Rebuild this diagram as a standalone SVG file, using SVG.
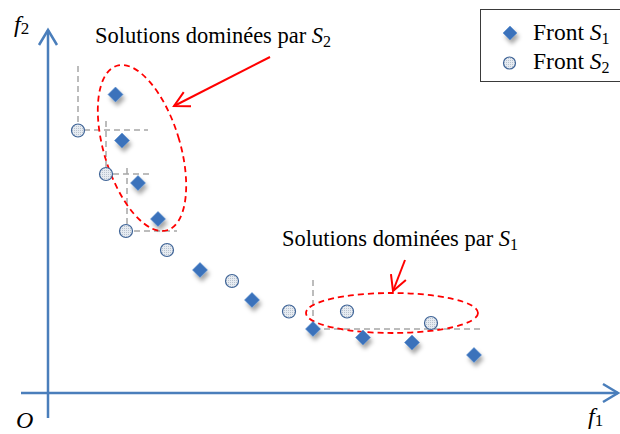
<svg xmlns="http://www.w3.org/2000/svg" width="620" height="434" viewBox="0 0 620 434">
<style>
.lbl{font-family:"Liberation Serif","Times New Roman",serif;font-size:22.5px;fill:#000}
.math{font-family:"Liberation Serif","Times New Roman",serif;font-style:italic;fill:#000}
.axis{stroke:#4a7ebb;stroke-width:2.5;fill:none}
.grid{stroke:#a6a6a6;stroke-width:1.5;stroke-dasharray:6 4;fill:none}
.dom{stroke:#ff0000;stroke-width:1.8;stroke-dasharray:6 4;fill:none}
.red{stroke:#ff0000;stroke-width:2;fill:none}
.s1{fill:#3b72bb;stroke:#5b8fd0;stroke-width:0.6;filter:url(#sh)}
.s2{fill:url(#dots);stroke:#3f6497;stroke-width:1.2}
</style>
<defs>
<filter id="sh" x="-50%" y="-50%" width="220%" height="220%">
<feDropShadow dx="2" dy="4" stdDeviation="2.2" flood-color="#000" flood-opacity="0.35"/>
</filter>
<marker id="ab" markerUnits="userSpaceOnUse" markerWidth="40" markerHeight="40" refX="0" refY="0" viewBox="-20 -20 40 40" orient="auto" overflow="visible">
<path d="M-15,-9 L0,0 L-15,9" fill="none" stroke="#4a7ebb" stroke-width="2.5"/>
</marker>
<marker id="ar" markerUnits="userSpaceOnUse" markerWidth="40" markerHeight="40" refX="0" refY="0" viewBox="-20 -20 40 40" orient="auto" overflow="visible">
<path d="M-15,-8 L0,0 L-15,8" fill="none" stroke="#ff0000" stroke-width="2"/>
</marker>
<pattern id="dots" width="2" height="2" patternUnits="userSpaceOnUse">
<rect width="2" height="2" fill="#e6ebf1"/>
<rect width="1" height="1" fill="#b9c3cf"/>
</pattern>
</defs>
<rect width="620" height="434" fill="#fff"/>

<g id="connectors">
<line class="axis" x1="48" y1="418" x2="48" y2="30" marker-end="url(#ab)"/>
<line class="axis" x1="21" y1="393" x2="618" y2="393" marker-end="url(#ab)"/>
<path class="grid" d="M78,66 V130 H148"/>
<path class="grid" d="M106,121 V174 H152"/>
<path class="grid" d="M127,168 V231 H177"/>
<path class="grid" d="M313,280 V329 H481"/>
<line class="red" x1="270" y1="57" x2="174" y2="106" marker-end="url(#ar)"/>
<line class="red" x1="405" y1="260" x2="393" y2="291" marker-end="url(#ar)"/>
</g>

<g id="dominated-by-s2">
<ellipse class="dom" cx="142" cy="148" rx="38" ry="86" transform="rotate(-17 142 148)"/>
<text class="lbl" x="95" y="43">Solutions dominées par <tspan class="math">S</tspan><tspan font-size="16" dy="4">2</tspan></text>
</g>
<g id="dominated-by-s1">
<ellipse class="dom" cx="392" cy="313" rx="86" ry="20"/>
<text class="lbl" x="282" y="246">Solutions dominées par <tspan class="math">S</tspan><tspan font-size="16" dy="4">1</tspan></text>
</g>

<g id="front-s1">
<path class="s1" d="M115.5,87 l7.5,7.5 l-7.5,7.5 l-7.5,-7.5z"/>
<path class="s1" d="M122,133 l7.5,7.5 l-7.5,7.5 l-7.5,-7.5z"/>
<path class="s1" d="M138,175.5 l7.5,7.5 l-7.5,7.5 l-7.5,-7.5z"/>
<path class="s1" d="M158,211.5 l7.5,7.5 l-7.5,7.5 l-7.5,-7.5z"/>
<path class="s1" d="M200,262.5 l7.5,7.5 l-7.5,7.5 l-7.5,-7.5z"/>
<path class="s1" d="M252,292.5 l7.5,7.5 l-7.5,7.5 l-7.5,-7.5z"/>
<path class="s1" d="M313,321.5 l7.5,7.5 l-7.5,7.5 l-7.5,-7.5z"/>
<path class="s1" d="M363,330 l7.5,7.5 l-7.5,7.5 l-7.5,-7.5z"/>
<path class="s1" d="M412,335 l7.5,7.5 l-7.5,7.5 l-7.5,-7.5z"/>
<path class="s1" d="M474,347.5 l7.5,7.5 l-7.5,7.5 l-7.5,-7.5z"/>
</g>

<g id="front-s2">
<circle class="s2" cx="78" cy="130.5" r="6.5"/>
<circle class="s2" cx="106" cy="174" r="6.5"/>
<circle class="s2" cx="126" cy="231" r="6.5"/>
<circle class="s2" cx="167" cy="250" r="6.5"/>
<circle class="s2" cx="232" cy="281" r="6.5"/>
<circle class="s2" cx="289" cy="311.5" r="6.5"/>
<circle class="s2" cx="347" cy="311.5" r="6.5"/>
<circle class="s2" cx="431" cy="323" r="6.5"/>
</g>

<g id="axis-labels">
<text class="math" x="14" y="32" font-size="24">f<tspan font-style="normal" font-size="17" dy="2">2</tspan></text>
<text class="math" x="588" y="424" font-size="24">f<tspan font-style="normal" font-size="17" dy="2">1</tspan></text>
<text class="math" x="16" y="428" font-size="24">O</text>
</g>

<g id="legend">
<rect x="480.5" y="9.5" width="142" height="72" fill="#fff" stroke="#3a3a3a" stroke-width="1"/>
<path class="s1" d="M510,26 l7,7 l-7,7 l-7,-7z"/>
<circle class="s2" cx="509.5" cy="63" r="6"/>
<text class="lbl" x="533" y="40" font-size="23.5" style="font-size:23.5px">Front <tspan class="math">S</tspan><tspan font-size="16" dy="4">1</tspan></text>
<text class="lbl" x="533" y="69" style="font-size:23.5px">Front <tspan class="math">S</tspan><tspan font-size="16" dy="4">2</tspan></text>
</g>
</svg>
